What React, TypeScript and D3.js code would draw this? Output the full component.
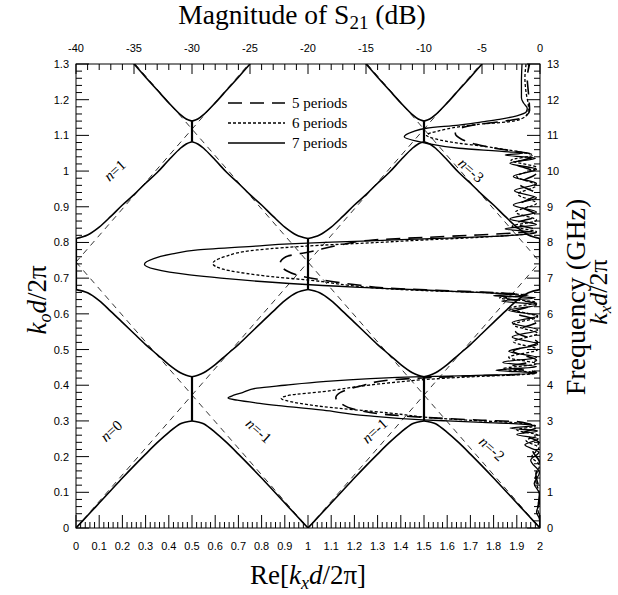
import * as d3 from "d3";

// tick labels
const kxLabels = ["0", "0.1", "0.2", "0.3", "0.4", "0.5", "0.6", "0.7", "0.8", "0.9", "1", "1.1", "1.2", "1.3", "1.4", "1.5", "1.6", "1.7", "1.8", "1.9", "2"];
const fLabels = ["0", "0.1", "0.2", "0.3", "0.4", "0.5", "0.6", "0.7", "0.8", "0.9", "1", "1.1", "1.2", "1.3"];
const dbLabels = ["-40", "-35", "-30", "-25", "-20", "-15", "-10", "-5", "0"];
const ghzLabels = ["0", "1", "2", "3", "4", "5", "6", "7", "8", "9", "10", "11", "12", "13"];

// band branches: [distance from integer kx, k0 d / 2pi]
const band1 = [[0, 0], [0.05, 0.035], [0.1, 0.07], [0.15, 0.105], [0.2, 0.14], [0.25, 0.174], [0.3, 0.207], [0.35, 0.239], [0.4, 0.268], [0.45, 0.292], [0.475, 0.297], [0.5, 0.3]];
const band2 = [[0, 0.668], [0.05, 0.659], [0.1, 0.637], [0.15, 0.607], [0.2, 0.576], [0.25, 0.545], [0.3, 0.514], [0.35, 0.486], [0.4, 0.458], [0.45, 0.435], [0.475, 0.428], [0.5, 0.424]];
const band3 = [[0, 0.811], [0.05, 0.821], [0.1, 0.843], [0.15, 0.873], [0.2, 0.905], [0.25, 0.934], [0.3, 0.966], [0.35, 0.996], [0.4, 1.031], [0.45, 1.064], [0.475, 1.076], [0.5, 1.082]];
const band4 = [[0.25, 1.3], [0.3, 1.263], [0.35, 1.227], [0.4, 1.191], [0.45, 1.158], [0.475, 1.146], [0.5, 1.14]];
const branches = [{ c: 0, dir: 1 }, { c: 1, dir: -1 }, { c: 1, dir: 1 }, { c: 2, dir: -1 }];

// stop bands (vertical segments of Re[kx])
const gaps = [
  { kx: 0.5, lo: 0.3, hi: 0.424 }, { kx: 1.5, lo: 0.3, hi: 0.424 },
  { kx: 0, lo: 0.668, hi: 0.811 }, { kx: 1, lo: 0.668, hi: 0.811 }, { kx: 2, lo: 0.668, hi: 0.811 },
  { kx: 0.5, lo: 1.082, hi: 1.14 }, { kx: 1.5, lo: 1.082, hi: 1.14 },
];

// light lines [kx0, f0, kx1, f1]
const lightLines = [
  [0, 0, 1.745, 1.3], [0, 0.745, 0.745, 1.3], [0, 0.745, 1, 0], [1, 0, 2, 0.745],
  [0.255, 1.3, 2, 0], [1.255, 1.3, 2, 0.745],
];

const nLabels = [
  { t: "1", kx: 0.17, f: 1.0, rot: -42 },
  { t: "0", kx: 0.155, f: 0.27, rot: -42 },
  { t: "-1", kx: 0.785, f: 0.27, rot: 42 },
  { t: "-1", kx: 1.29, f: 0.27, rot: -42 },
  { t: "-2", kx: 1.79, f: 0.22, rot: 42 },
  { t: "-3", kx: 1.7, f: 1.0, rot: 42 },
];

// S21: [GHz, dB]
const s21p7 = [[0, 0], [0.25, -0.05], [0.45, -0.3], [0.7, -0.05], [0.95, -0.05], [1.25, -0.5], [1.55, -0.05], [1.9, -0.8], [2.12, -0.1], [2.33, -1.3], [2.5, -0.15], [2.62, -2.0], [2.72, -0.2], [2.8, -2.6], [2.87, -0.4], [2.92, -2], [2.96, -5], [3.0, -8], [3.03, -10.1], [3.15, -15], [3.3, -18.7], [3.5, -24.4], [3.58, -26.1], [3.64, -26.9], [3.72, -26.4], [3.8, -25.6], [3.92, -24.4], [4.0, -22], [4.1, -18.7], [4.18, -15], [4.24, -10.1], [4.27, -6], [4.3, -2.5], [4.34, -0.3], [4.42, -3.8], [4.52, -0.3], [4.64, -3.2], [4.78, -0.3], [4.95, -2.7], [5.15, -0.2], [5.35, -2.4], [5.55, -0.2], [5.75, -2.4], [5.95, -0.2], [6.1, -2.7], [6.25, -0.3], [6.36, -3.3], [6.45, -0.4], [6.51, -4], [6.55, -2], [6.58, -4], [6.62, -7], [6.67, -10.1], [6.75, -16], [6.85, -21.6], [7.0, -27.5], [7.09, -30.2], [7.25, -33.2], [7.39, -34.1], [7.55, -33.3], [7.68, -31.7], [7.79, -29.5], [7.9, -24.5], [7.96, -21.6], [8.03, -16], [8.08, -12], [8.12, -8], [8.17, -4], [8.22, -1.5], [8.27, -0.3], [8.38, -3.0], [8.5, -0.3], [8.66, -2.6], [8.85, -0.3], [9.05, -2.3], [9.25, -0.3], [9.45, -2.2], [9.65, -0.3], [9.85, -2.3], [10.05, -0.3], [10.22, -2.6], [10.36, -0.4], [10.45, -3], [10.5, -1.5], [10.54, -2.7], [10.64, -7], [10.78, -9.8], [10.96, -11.7], [11.1, -11], [11.2, -9.8], [11.29, -7.0], [11.38, -5], [11.45, -3.5], [11.55, -2], [11.65, -1.2], [11.76, -1.1], [11.9, -1.4], [12.05, -1.6], [12.5, -1.6], [13, -1.55]];
const s21p6 = [[0, 0], [0.3, -0.03], [0.55, -0.2], [0.9, -0.03], [1.4, -0.4], [1.75, -0.05], [2.0, -0.7], [2.25, -0.1], [2.45, -1.2], [2.6, -0.2], [2.75, -2.0], [2.86, -0.4], [2.93, -1.5], [2.97, -3], [3.0, -5], [3.08, -9], [3.22, -12.9], [3.4, -18.7], [3.52, -21.2], [3.63, -22.3], [3.72, -21.6], [3.82, -18.7], [3.95, -16], [4.07, -12.9], [4.18, -9], [4.25, -5], [4.29, -2], [4.34, -0.3], [4.46, -3.2], [4.6, -0.3], [4.78, -2.7], [5.0, -0.2], [5.22, -2.3], [5.45, -0.2], [5.7, -2.3], [5.92, -0.2], [6.15, -2.6], [6.32, -0.3], [6.45, -3.5], [6.52, -1], [6.56, -2.5], [6.6, -5], [6.64, -9], [6.7, -13], [6.8, -16.5], [6.9, -18.7], [7.09, -24.4], [7.25, -27.3], [7.41, -28.2], [7.6, -27.2], [7.79, -24.4], [7.92, -19], [8.0, -14], [8.07, -10], [8.13, -6], [8.19, -3], [8.25, -0.8], [8.3, -0.3], [8.45, -2.4], [8.62, -0.3], [8.85, -2.1], [9.1, -0.3], [9.35, -1.9], [9.6, -0.3], [9.85, -2.0], [10.1, -0.3], [10.3, -2.5], [10.45, -0.6], [10.52, -1.5], [10.59, -2.7], [10.7, -5], [10.78, -7], [10.9, -9], [11.01, -9.8], [11.12, -8.8], [11.24, -7], [11.32, -5], [11.38, -2.7], [11.48, -1.5], [11.6, -1.1], [11.8, -1.0], [12.2, -1.2], [12.6, -1.3], [13, -1.2]];
const s21p5 = [[0, 0], [0.35, -0.02], [0.6, -0.15], [1.0, -0.02], [1.5, -0.35], [1.85, -0.05], [2.15, -0.6], [2.4, -0.1], [2.65, -1.5], [2.82, -0.3], [2.92, -1], [2.98, -2], [3.02, -5], [3.1, -10], [3.17, -12.9], [3.31, -15.8], [3.5, -17.2], [3.65, -17.6], [3.8, -17.2], [4.0, -15.2], [4.15, -12.9], [4.22, -9], [4.27, -5], [4.3, -2], [4.36, -0.3], [4.5, -2.8], [4.7, -0.3], [4.95, -2.3], [5.2, -0.2], [5.5, -2.1], [5.8, -0.2], [6.05, -2.3], [6.28, -0.3], [6.45, -3], [6.53, -1.2], [6.57, -2.5], [6.61, -5], [6.66, -9], [6.72, -13.2], [6.8, -15.5], [6.9, -17.8], [7.05, -20.5], [7.2, -21.8], [7.42, -22.4], [7.6, -21.9], [7.74, -19.8], [7.93, -17.2], [8.07, -14.4], [8.14, -10], [8.2, -6], [8.25, -3], [8.3, -1], [8.35, -0.3], [8.52, -2.1], [8.75, -0.3], [9.05, -1.8], [9.35, -0.3], [9.65, -1.8], [9.95, -0.3], [10.22, -2.2], [10.42, -0.5], [10.5, -1], [10.55, -2], [10.62, -3.5], [10.75, -5.5], [10.9, -6.8], [11.05, -7.3], [11.2, -6.8], [11.3, -5.5], [11.38, -3.5], [11.45, -2], [11.55, -1.2], [11.7, -0.9], [12.2, -1.0], [12.6, -1.1], [13, -0.9]];

const series = [
  { name: "5 periods", data: s21p5, dash: "14,8", width: 1.6 },
  { name: "6 periods", data: s21p6, dash: "3,2", width: 1.3 },
  { name: "7 periods", data: s21p7, dash: "none", width: 1.3 },
];

export default function App() {
  const W = 618, H = 595;
  const L = 76, R = 540, T = 64, B = 528;
  const x = d3.scaleLinear().domain([0, 2]).range([L, R]);
  const y = d3.scaleLinear().domain([0, 1.3]).range([B, T]);
  const xDb = d3.scaleLinear().domain([-40, 0]).range([L, R]);
  const yGHz = d3.scaleLinear().domain([0, 13]).range([B, T]);

  const bandLine = d3.line<number[]>().x((d) => x(d[0])).y((d) => y(d[1])).curve(d3.curveCatmullRom.alpha(0.5));
  const s21Line = d3.line<number[]>().x((d) => xDb(d[1])).y((d) => yGHz(d[0])).curve(d3.curveMonotoneY);

  const bandPaths: string[] = [];
  [band1, band2, band3, band4].forEach((band) => {
    branches.forEach((b) => {
      bandPaths.push(bandLine(band.map(([d, f]) => [b.c + b.dir * d, f])) as string);
    });
  });

  const sans = "'Liberation Sans', Arial, sans-serif";
  const serif = "'Liberation Serif', 'Times New Roman', serif";

  const fMinor = d3.range(0, 66).map((i) => i * 0.02);
  const kxMinor = d3.range(0, 101).map((i) => i * 0.02);
  const dbMinor = d3.range(-40, 1);
  const ghzMinor = d3.range(0, 66).map((i) => i * 0.2);

  return (
    <svg width={W} height={H} style={{ position: "absolute", left: 0, top: 0, background: "#fff" }}>
      <defs>
        <clipPath id="plot">
          <rect x={L} y={T} width={R - L} height={B - T} />
        </clipPath>
      </defs>

      <g clipPath="url(#plot)">
        {lightLines.map((l, i) => (
          <line key={i} x1={x(l[0])} y1={y(l[1])} x2={x(l[2])} y2={y(l[3])} stroke="#000" strokeWidth={0.8} strokeDasharray="6,5" />
        ))}
        {bandPaths.map((p, i) => (
          <path key={i} d={p} fill="none" stroke="#000" strokeWidth={1.6} />
        ))}
        {gaps.map((g, i) => (
          <line key={i} x1={x(g.kx)} x2={x(g.kx)} y1={y(g.lo)} y2={y(g.hi)} stroke="#000" strokeWidth={2.2} />
        ))}
        {series.map((s) => (
          <path key={s.name} d={s21Line(s.data) as string} fill="none" stroke="#000" strokeWidth={s.width} strokeDasharray={s.dash} />
        ))}
      </g>

      {/* frame */}
      <rect x={L} y={T} width={R - L} height={B - T} fill="none" stroke="#000" strokeWidth={1} />

      {/* left ticks */}
      {fMinor.map((v, i) => (
        <line key={"fl" + i} x1={L} x2={L + (i % 5 === 0 ? 13 : 6)} y1={y(v)} y2={y(v)} stroke="#000" />
      ))}
      {fLabels.map((t) => (
        <text key={"flt" + t} x={L - 7} y={y(+t) + 4} textAnchor="end" fontFamily={sans} fontSize={11}>{t}</text>
      ))}

      {/* bottom ticks */}
      {kxMinor.map((v, i) => (
        <line key={"kb" + i} y1={B} y2={B - (i % 5 === 0 ? 13 : 6)} x1={x(v)} x2={x(v)} stroke="#000" />
      ))}
      {kxLabels.map((t) => (
        <text key={"kbt" + t} x={x(+t)} y={B + 22} textAnchor="middle" fontFamily={sans} fontSize={11}>{t}</text>
      ))}

      {/* top ticks */}
      {dbMinor.map((v) => (
        <line key={"dt" + v} y1={T} y2={T + (v % 5 === 0 ? 10 : 6)} x1={xDb(v)} x2={xDb(v)} stroke="#000" />
      ))}
      {dbLabels.map((t) => (
        <text key={"dtt" + t} x={xDb(+t)} y={T - 12} textAnchor="middle" fontFamily={sans} fontSize={11}>{t}</text>
      ))}

      {/* right ticks */}
      {ghzMinor.map((v, i) => (
        <line key={"gr" + i} x1={R} x2={R - (i % 5 === 0 ? 13 : 6)} y1={yGHz(v)} y2={yGHz(v)} stroke="#000" />
      ))}
      {ghzLabels.map((t) => (
        <text key={"grt" + t} x={R + 7} y={yGHz(+t) + 4} textAnchor="start" fontFamily={sans} fontSize={11}>{t}</text>
      ))}

      {/* n labels */}
      {nLabels.map((n, i) => (
        <text key={"n" + i} transform={`translate(${x(n.kx)},${y(n.f)}) rotate(${n.rot})`} textAnchor="middle" dy={4} fontFamily={serif} fontSize={15}>
          <tspan fontStyle="italic">n</tspan>={n.t}
        </text>
      ))}

      {/* legend */}
      {series.map((s, i) => (
        <g key={"lg" + s.name} transform={`translate(228,${103 + i * 20})`}>
          <line x1={0} x2={57} y1={0} y2={0} stroke="#000" strokeWidth={s.width} strokeDasharray={s.dash} />
          <text x={64} y={5} fontFamily={serif} fontSize={15}>{s.name}</text>
        </g>
      ))}

      {/* titles */}
      <text x={302} y={24} textAnchor="middle" fontFamily={serif} fontSize={27.5}>
        Magnitude of S<tspan fontSize={19} dy={5}>21</tspan><tspan dy={-5}> (dB)</tspan>
      </text>
      <text x={308} y={584} textAnchor="middle" fontFamily={serif} fontSize={27}>
        Re[<tspan fontStyle="italic">k</tspan><tspan fontStyle="italic" fontSize={18} dy={5}>x</tspan><tspan fontStyle="italic" dy={-5}>d</tspan>/2π]
      </text>
      <text transform="translate(46,300) rotate(-90)" textAnchor="middle" fontFamily={serif} fontSize={27}>
        <tspan fontStyle="italic">k</tspan><tspan fontStyle="italic" fontSize={18} dy={5}>o</tspan><tspan fontStyle="italic" dy={-5}>d</tspan>/2π
      </text>
      <text transform="translate(585,297) rotate(-90)" textAnchor="middle" fontFamily={serif} fontSize={28}>
        Frequency (GHz)
      </text>
      <text transform="translate(607,292) rotate(-90)" textAnchor="middle" fontFamily={serif} fontSize={26}>
        <tspan fontStyle="italic">k</tspan><tspan fontStyle="italic" fontSize={17} dy={4}>x</tspan><tspan fontStyle="italic" dy={-4}>d</tspan>/2π
      </text>
    </svg>
  );
}
